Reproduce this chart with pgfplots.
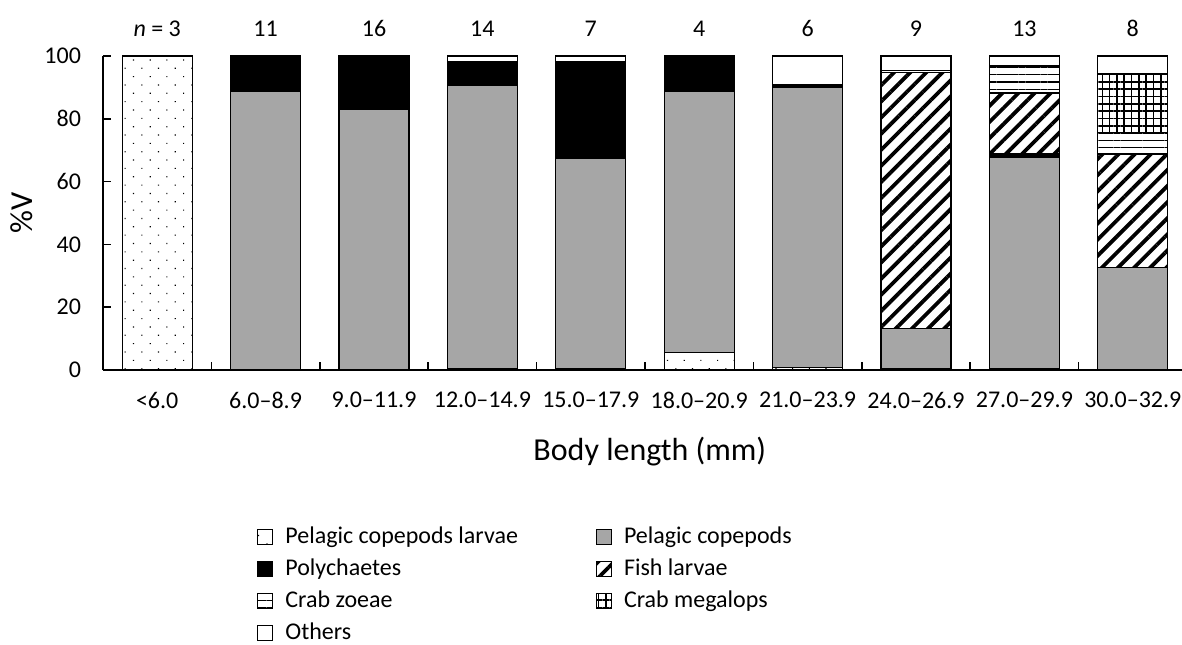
\documentclass[border=0pt]{standalone}
\usepackage{fontspec}
\setmainfont{Carlito}
\usepackage{pgfplots}
\usepackage{pgfplotstable}
\pgfplotsset{compat=1.18}
\usetikzlibrary{patterns.meta}
\definecolor{cgray}{RGB}{166,166,166}

\pgfplotstableread{
x larvae cope poly fish zoea mega other
0 100 0 0 0 0 0 0
1 0 88.8 11.2 0 0 0 0
2 0 82.9 16.6 0 0 0 0.5
3 0.5 90.2 7.6 0 0 0 1.7
4 0.5 67.0 30.8 0 0 0 1.7
5 5.6 83.2 11.2 0 0 0 0
6 0.8 89.2 1.0 0 0 0 9.0
7 0.5 12.6 0 81.6 0.8 0 4.5
8 0.5 67.2 1.1 19.4 8.6 0 3.2
9 0 32.6 0 36.2 6.8 18.7 5.7
}\data

\begin{document}
\begin{tikzpicture}
\begin{axis}[
  at={(0,0)}, anchor=south west,
  scale only axis, width=539.3pt, height=157pt,
  ybar stacked, bar width=35pt,
  xmin=-0.5, xmax=9.45, ymin=0, ymax=100,
  axis lines*=left,
  axis line style={line width=0.75pt},
  xtick={0,...,9},
  xticklabels={<6.0,6.0–8.9,9.0–11.9,12.0–14.9,15.0–17.9,18.0–20.9,21.0–23.9,24.0–26.9,27.0–29.9,30.0–32.9},
  major x tick style={draw=none},
  minor xtick={0.5,1.5,...,8.5},
  ytick={0,20,...,100},
  tick align=inside,
  major tick length=4pt, minor tick length=4pt,
  tick style={line width=0.75pt, black},
  tick label style={font=\fontsize{12}{14}\selectfont},
  /pgf/number format/assume math mode=true,
  xticklabel style={yshift=-7.5pt},
  yticklabel style={xshift=-7.5pt},
  xlabel={Body length (mm)},
  xlabel style={font=\fontsize{16}{19}\selectfont, at={(axis description cs:0.507,0)}, anchor=base, yshift=-45pt},
  clip=false,
  legend columns=2, legend cell align=left,
  legend image code/.code={\draw[#1, line width=0.5pt] (0pt,-3.75pt) rectangle (7.5pt,3.75pt);},
  legend style={at={(0,0)}, anchor=north west, xshift=77pt, yshift=-77.5pt,
    draw=none, fill=none, inner sep=0pt, font=\fontsize{12}{14}\selectfont,
    nodes={inner sep=0pt, text height=9pt, text depth=3pt},
    row sep=4pt,
    /tikz/every odd column/.append style={column sep=6pt},
    /tikz/every even column/.append style={column sep=39pt}},
]
\addplot[draw=black, line width=0.6pt, pattern={Dots[distance=5.9pt, radius=0.4pt, angle=45]}, pattern color=black] table[x=x, y=larvae]{\data};
\addlegendentry{Pelagic copepods larvae}
\addplot[draw=black, line width=0.6pt, fill=cgray] table[x=x, y=cope]{\data};
\addlegendentry{Pelagic copepods}
\addplot[draw=black, line width=0.6pt, fill=black] table[x=x, y=poly]{\data};
\addlegendentry{Polychaetes}
\addplot[draw=black, line width=0.6pt, pattern={Lines[angle=45, distance=5.7pt, line width=1.9pt]}, pattern color=black] table[x=x, y=fish]{\data};
\addlegendentry{Fish larvae}
\addplot[draw=black, line width=0.6pt, pattern={Lines[angle=0, distance=3.65pt, line width=0.7pt]}, pattern color=black] table[x=x, y=zoea]{\data};
\addlegendentry{Crab zoeae}
\addplot[draw=black, line width=0.6pt, pattern={Hatch[angle=0, distance=3.65pt, line width=0.8pt]}, pattern color=black] table[x=x, y=mega]{\data};
\addlegendentry{Crab megalops}
\addplot[draw=black, line width=0.6pt, fill=white] table[x=x, y=other]{\data};
\addlegendentry{Others}

\node[anchor=base, yshift=9.7pt, font=\fontsize{12}{14}\selectfont] at (axis cs:0,100) {\textit{n} = 3};
\node[anchor=base, yshift=9.7pt, font=\fontsize{12}{14}\selectfont] at (axis cs:1,100) {11};
\node[anchor=base, yshift=9.7pt, font=\fontsize{12}{14}\selectfont] at (axis cs:2,100) {16};
\node[anchor=base, yshift=9.7pt, font=\fontsize{12}{14}\selectfont] at (axis cs:3,100) {14};
\node[anchor=base, yshift=9.7pt, font=\fontsize{12}{14}\selectfont] at (axis cs:4,100) {7};
\node[anchor=base, yshift=9.7pt, font=\fontsize{12}{14}\selectfont] at (axis cs:5,100) {4};
\node[anchor=base, yshift=9.7pt, font=\fontsize{12}{14}\selectfont] at (axis cs:6,100) {6};
\node[anchor=base, yshift=9.7pt, font=\fontsize{12}{14}\selectfont] at (axis cs:7,100) {9};
\node[anchor=base, yshift=9.7pt, font=\fontsize{12}{14}\selectfont] at (axis cs:8,100) {13};
\node[anchor=base, yshift=9.7pt, font=\fontsize{12}{14}\selectfont] at (axis cs:9,100) {8};
\node[rotate=90, font=\fontsize{16}{19}\selectfont] at ([xshift=-40.5pt]rel axis cs:0,0.5) {\%V};
\end{axis}
\pgfresetboundingbox
\path (-51.5pt,-137pt) rectangle (539.5pt,185pt);
\end{tikzpicture}
\end{document}
